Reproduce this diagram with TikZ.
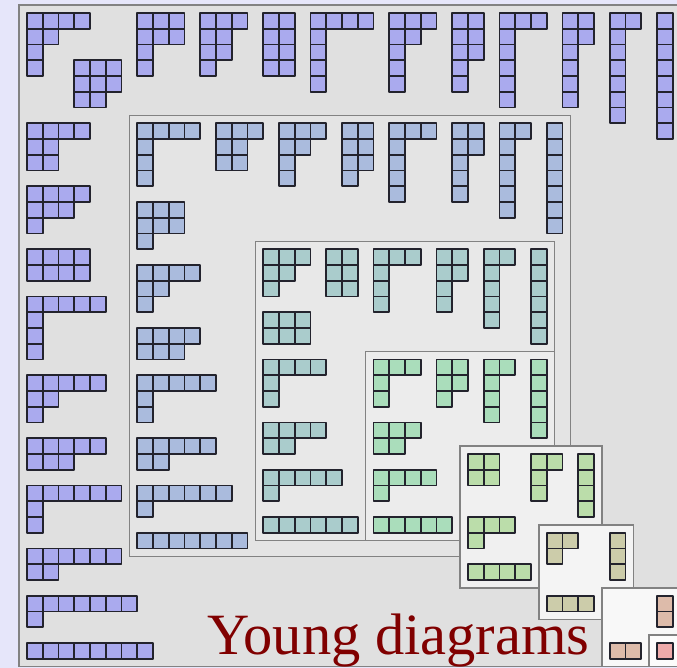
\documentclass[tikz,border=0pt]{standalone}
\usepackage{fontspec}
\setmainfont{Liberation Serif}
\definecolor{bgl}{RGB}{230,230,250}
\definecolor{c8}{RGB}{170,170,238}
\definecolor{c7}{RGB}{170,187,221}
\definecolor{c6}{RGB}{170,204,204}
\definecolor{c5}{RGB}{170,221,187}
\definecolor{c4}{RGB}{187,221,170}
\definecolor{c3}{RGB}{204,204,170}
\definecolor{c2}{RGB}{221,187,170}
\definecolor{c1}{RGB}{238,170,170}
\definecolor{f8}{RGB}{224,224,224}
\definecolor{f7}{RGB}{228,228,228}
\definecolor{f6}{RGB}{232,232,232}
\definecolor{f5}{RGB}{236,236,236}
\definecolor{f4}{RGB}{240,240,240}
\definecolor{f3}{RGB}{244,244,244}
\definecolor{f2}{RGB}{248,248,248}
\definecolor{f1}{RGB}{252,252,252}
\definecolor{framec}{RGB}{130,130,130}
\definecolor{titlec}{RGB}{128,0,0}
\tikzset{
  cellbox/.style={draw={rgb,255:red,35;green,35;blue,45}, line width=1.8pt, line join=round},
  framebox/.style={draw=framec, line width=1.4pt}
}
\newcommand\ydiag[4]{%
  \foreach \len [count=\rr from 0] in {#4}{%
    \foreach \cc in {1,...,\len}{%
      \draw[cellbox, fill=#1] ({#2+\cc-1},{#3+\rr}) rectangle ++(1,1);
    }
  }
}
\begin{document}
\begin{tikzpicture}[x=15.75pt, y=-15.75pt]
\useasboundingbox (-1.7143,-0.8254) rectangle (41.2698,41.5873);
\clip (-1.7143,-0.8254) rectangle (41.2698,41.5873);
\fill[bgl] (-1.7143,-0.8254) rectangle (41.2698,41.5873);
% n = 8
\filldraw[framebox, fill=f8] (-0.5,-0.5) rectangle (41.5,41.5);
\ydiag{c8}{0}{0}{4,2,1,1}
\ydiag{c8}{3}{3}{3,3,2}
\ydiag{c8}{7}{0}{3,3,1,1}
\ydiag{c8}{11}{0}{3,2,2,1}
\ydiag{c8}{15}{0}{2,2,2,2}
\ydiag{c8}{18}{0}{4,1,1,1,1}
\ydiag{c8}{23}{0}{3,2,1,1,1}
\ydiag{c8}{27}{0}{2,2,2,1,1}
\ydiag{c8}{30}{0}{3,1,1,1,1,1}
\ydiag{c8}{34}{0}{2,2,1,1,1,1}
\ydiag{c8}{37}{0}{2,1,1,1,1,1,1}
\ydiag{c8}{40}{0}{1,1,1,1,1,1,1,1}
\ydiag{c8}{0}{7}{4,2,2}
\ydiag{c8}{0}{11}{4,3,1}
\ydiag{c8}{0}{15}{4,4}
\ydiag{c8}{0}{18}{5,1,1,1}
\ydiag{c8}{0}{23}{5,2,1}
\ydiag{c8}{0}{27}{5,3}
\ydiag{c8}{0}{30}{6,1,1}
\ydiag{c8}{0}{34}{6,2}
\ydiag{c8}{0}{37}{7,1}
\ydiag{c8}{0}{40}{8}
% n = 7
\filldraw[framebox, fill=f7] (6.5,6.5) rectangle (34.5,34.5);
\ydiag{c7}{7}{7}{4,1,1,1}
\ydiag{c7}{12}{7}{3,2,2}
\ydiag{c7}{16}{7}{3,2,1,1}
\ydiag{c7}{20}{7}{2,2,2,1}
\ydiag{c7}{23}{7}{3,1,1,1,1}
\ydiag{c7}{27}{7}{2,2,1,1,1}
\ydiag{c7}{30}{7}{2,1,1,1,1,1}
\ydiag{c7}{33}{7}{1,1,1,1,1,1,1}
\ydiag{c7}{7}{12}{3,3,1}
\ydiag{c7}{7}{16}{4,2,1}
\ydiag{c7}{7}{20}{4,3}
\ydiag{c7}{7}{23}{5,1,1}
\ydiag{c7}{7}{27}{5,2}
\ydiag{c7}{7}{30}{6,1}
\ydiag{c7}{7}{33}{7}
% n = 6
\filldraw[framebox, fill=f6] (14.5,14.5) rectangle (33.5,33.5);
\ydiag{c6}{15}{15}{3,2,1}
\ydiag{c6}{19}{15}{2,2,2}
\ydiag{c6}{22}{15}{3,1,1,1}
\ydiag{c6}{26}{15}{2,2,1,1}
\ydiag{c6}{29}{15}{2,1,1,1,1}
\ydiag{c6}{32}{15}{1,1,1,1,1,1}
\ydiag{c6}{15}{19}{3,3}
\ydiag{c6}{15}{22}{4,1,1}
\ydiag{c6}{15}{26}{4,2}
\ydiag{c6}{15}{29}{5,1}
\ydiag{c6}{15}{32}{6}
% n = 5
\filldraw[framebox, fill=f5] (21.5,21.5) rectangle (33.5,33.5);
\ydiag{c5}{22}{22}{3,1,1}
\ydiag{c5}{26}{22}{2,2,1}
\ydiag{c5}{29}{22}{2,1,1,1}
\ydiag{c5}{32}{22}{1,1,1,1,1}
\ydiag{c5}{22}{26}{3,2}
\ydiag{c5}{22}{29}{4,1}
\ydiag{c5}{22}{32}{5}
% n = 4
\filldraw[framebox, fill=f4] (27.5,27.5) rectangle (36.5,36.5);
\ydiag{c4}{28}{28}{2,2}
\ydiag{c4}{32}{28}{2,1,1}
\ydiag{c4}{35}{28}{1,1,1,1}
\ydiag{c4}{28}{32}{3,1}
\ydiag{c4}{28}{35}{4}
% n = 3
\filldraw[framebox, fill=f3] (32.5,32.5) rectangle (38.5,38.5);
\ydiag{c3}{33}{33}{2,1}
\ydiag{c3}{37}{33}{1,1,1}
\ydiag{c3}{33}{37}{3}
% n = 2
\filldraw[framebox, fill=f2] (36.5,36.5) rectangle (41.5,41.5);
\ydiag{c2}{40}{37}{1,1}
\ydiag{c2}{37}{40}{2}
% n = 1
\filldraw[framebox, fill=f1] (39.5,39.5) rectangle (41.5,41.5);
\ydiag{c1}{40}{40}{1}
% title
\node[anchor=base west, inner sep=0pt, text=titlec, font=\fontsize{58.5pt}{58.5pt}\selectfont] (title) at (11.43,40.76) {Young diagrams};
\end{tikzpicture}
\end{document}
